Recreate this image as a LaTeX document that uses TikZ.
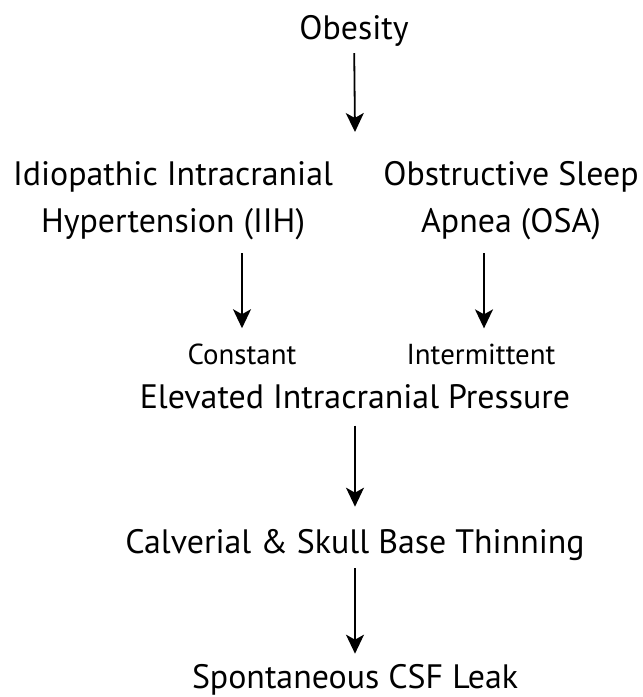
\documentclass[tikz,border=0pt]{standalone}
\usepackage{fontspec}
\setmainfont{PT Sans}
\usetikzlibrary{arrows.meta,positioning}

\begin{document}
\begin{tikzpicture}[x=1bp,y=-1bp,
  font=\fontsize{34}{47}\selectfont, >={Stealth[length=19bp,width=18bp,inset=5bp]},
  stage/.style={inner sep=0pt,anchor=base,align=center},
  tag/.style={inner sep=0pt,anchor=base,font=\fontsize{29}{34}\selectfont},
  flow/.style={->,line width=1.8bp}
]
\useasboundingbox (0,0) rectangle (643,697);
\node[stage] (ob) at (354,40) {Obesity};
\coordinate (fork) at (355,132);
\node[stage] (iih) at (173,232) {Idiopathic Intracranial\\Hypertension (IIH)};
\node[stage] (osa) at (511,232) {Obstructive Sleep\\Apnea (OSA)};
\node[tag] (cst) at (242,364) {Constant};
\node[tag] (itm) at (481,364) {Intermittent};
\node[stage] (icp) at (355,408) {Elevated Intracranial Pressure};
\node[stage] (thin) at (355,553) {Calverial \& Skull Base Thinning};
\node[stage] (leak) at (355,688) {Spontaneous CSF Leak};
\draw[flow,shorten <=6bp] (ob) -- (fork);
\draw[flow,shorten <=21bp,shorten >=15bp] (cst.north |- iih.base) -- (cst.north);
\draw[flow,shorten <=21bp,shorten >=15bp] ([xshift=3bp]itm.north |- osa.base) -- ([xshift=3bp]itm.north);
\draw[flow,shorten <=17bp,shorten >=22bp] (icp) -- (thin);
\draw[flow,shorten <=8bp,shorten >=10bp] (thin) -- (leak);
\end{tikzpicture}
\end{document}
